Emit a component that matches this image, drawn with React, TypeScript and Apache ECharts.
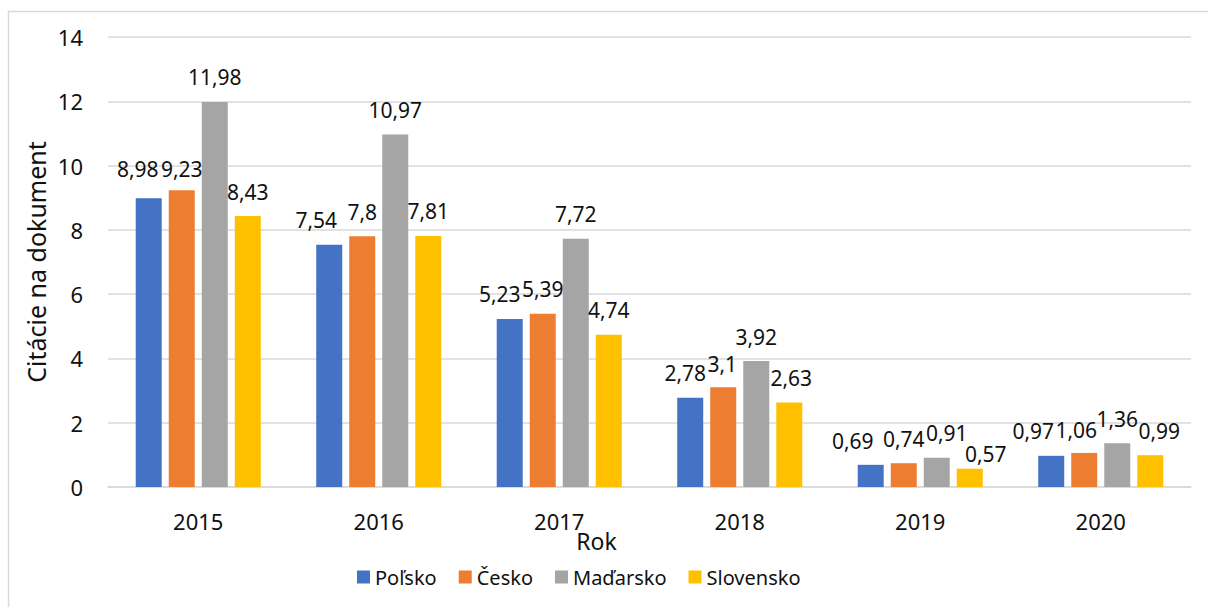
import React, { useEffect, useRef } from "react";
import * as echarts from "echarts";

const years = ["2015", "2016", "2017", "2018", "2019", "2020"];
const seriesNames = ["Poľsko", "Česko", "Maďarsko", "Slovensko"];
const polsko = [8.98, 7.54, 5.23, 2.78, 0.69, 0.97];
const cesko = [9.23, 7.8, 5.39, 3.1, 0.74, 1.06];
const madarsko = [11.98, 10.97, 7.72, 3.92, 0.91, 1.36];
const slovensko = [8.43, 7.81, 4.74, 2.63, 0.57, 0.99];
const yTicks = { min: 0, max: 14, interval: 2 };

// label nudges (dx, dy) to mimic the reference's label placement
const labelNudges: number[][][] = [
  [[-11, -5], [-13, 0], [-10, 0], [-5, 0], [-18, 1], [-18, 0]],
  [[0, 3], [0, 0], [0, 0], [-1, 1], [0, 0], [-8, 2]],
  [[0, 0], [0, 0], [0, 0], [0, 0], [10, 0], [0, 0]],
  [[0, 0], [0, 0], [0, 0], [2, 0], [16, 10], [9, 0]],
];

const colors = ["#4472C4", "#ED7D31", "#A5A5A5", "#FFC000"];
const FONT = "Noto Sans";

export default function App() {
  const ref = useRef<HTMLDivElement>(null);
  useEffect(() => {
    if (!ref.current) return;
    const chart = echarts.init(ref.current, null, { renderer: "svg" });
    const allData = [polsko, cesko, madarsko, slovensko];
    const fmt = (v: number) => String(v).replace(".", ",");
    chart.setOption({
      animation: false,
      color: colors,
      textStyle: { fontFamily: FONT },
      graphic: [
        {
          type: "rect",
          shape: { x: 8.5, y: 11.5, width: 1300, height: 700 },
          style: { fill: "none", stroke: "#d9d9d9", lineWidth: 1.5 },
          silent: true,
        },
      ],
      grid: { left: 108, right: 17, top: 37, bottom: 120 },
      legend: {
        data: seriesNames,
        left: 352,
        top: 562,
        icon: "rect",
        itemWidth: 13,
        itemHeight: 13,
        itemGap: 22,
        textStyle: { fontSize: 20, color: "#111", fontFamily: FONT },
      },
      xAxis: {
        type: "category",
        data: years,
        name: "Rok",
        nameLocation: "middle",
        nameGap: 42,
        nameMoveOverlap: false,
        nameTextStyle: { fontSize: 23, color: "#111", fontFamily: FONT, padding: [0, 106, 0, 0] },
        axisLine: { lineStyle: { color: "#d9d9d9", width: 1.5 } },
        axisTick: { show: false },
        axisLabel: { fontSize: 22, color: "#111", margin: 23, fontFamily: FONT },
      },
      yAxis: {
        type: "value",
        min: yTicks.min,
        max: yTicks.max,
        interval: yTicks.interval,
        name: "Citácie na dokument",
        nameLocation: "middle",
        nameGap: 60,
        nameMoveOverlap: false,
        nameTextStyle: { fontSize: 25, color: "#111", fontFamily: FONT },
        axisLine: { show: false },
        axisTick: { show: false },
        axisLabel: { fontSize: 22, color: "#111", margin: 25, fontFamily: FONT },
        splitLine: { lineStyle: { color: "#d9d9d9", width: 1.5 } },
      },
      series: seriesNames.map((name, si) => ({
        name,
        type: "bar",
        barWidth: 26,
        barGap: "27%",
        data: allData[si].map((v, ci) => ({
          value: v,
          label: { offset: labelNudges[si][ci] },
        })),
        label: {
          show: true,
          position: "top",
          distance: 14,
          fontSize: 21,
          color: "#111",
          fontFamily: FONT,
          formatter: (p: any) => fmt(p.value),
        },
      })),
    });
    return () => chart.dispose();
  }, []);
  return (
    <div
      ref={ref}
      style={{ position: "fixed", left: 0, top: 0, width: 1208, height: 607, background: "#fff" }}
    />
  );
}
